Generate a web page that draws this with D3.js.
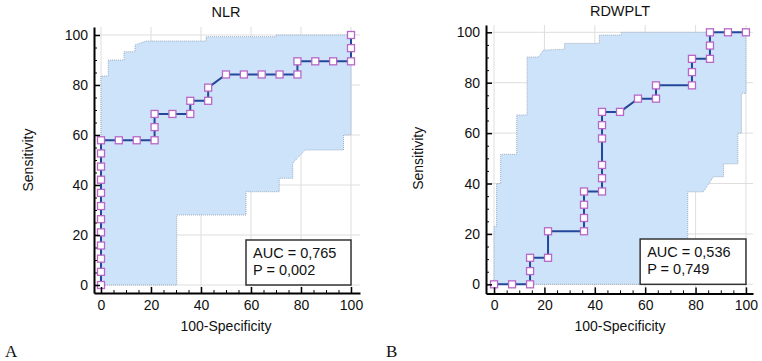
<!DOCTYPE html>
<html>
<head>
<meta charset="utf-8">
<script src="https://cdn.jsdelivr.net/npm/d3@7"></script>
<style>
  body { margin: 0; background: #fff; }
  svg { font-family: Arial, 'Liberation Sans', sans-serif; }
</style>
</head>
<body>
<svg id="chart" width="762" height="361"></svg>
<script>
// tick labels
const xTicks = [0, 20, 40, 60, 80, 100];
const yTicks = [0, 20, 40, 60, 80, 100];

// NLR roc curve (100-specificity, sensitivity)
const nlrFpr = [0, 0, 0, 0, 0, 0, 0, 0, 0, 0, 0, 0, 7.14, 14.29, 21.43, 21.43, 21.43, 28.57, 35.71, 35.71, 42.86, 42.86, 50, 57.14, 64.29, 71.43, 78.57, 78.57, 85.71, 92.86, 100, 100, 100];
const nlrTpr = [0, 5.26, 10.53, 15.79, 21.05, 26.32, 31.58, 36.84, 42.11, 47.37, 52.63, 57.89, 57.89, 57.89, 57.89, 63.16, 68.42, 68.42, 68.42, 73.68, 73.68, 78.95, 84.21, 84.21, 84.21, 84.21, 84.21, 89.47, 89.47, 89.47, 89.47, 94.74, 100];
// NLR confidence band
const nlrUpperX = [0, 0, 2.9, 2.9, 9.2, 9.2, 13.6, 13.6, 18, 42, 42, 70, 70, 100];
const nlrUpperY = [0, 83.6, 83.6, 90, 90, 93.3, 93.3, 96, 97.6, 97.6, 99.3, 99.3, 100, 100];
const nlrLowerX = [0, 30.3, 30.3, 58, 58, 71.3, 71.3, 76.7, 76.7, 81.6, 97, 97, 100, 100];
const nlrLowerY = [0, 0, 28, 28, 37.3, 37.3, 42.7, 42.7, 48.7, 54, 54, 60, 60, 100];

// RDWPLT roc curve
const rdwFpr = [0, 7.14, 14.29, 14.29, 14.29, 21.43, 21.43, 35.71, 35.71, 35.71, 35.71, 42.86, 42.86, 42.86, 42.86, 42.86, 42.86, 50, 57.14, 64.29, 64.29, 78.57, 78.57, 78.57, 85.71, 85.71, 85.71, 92.86, 100];
const rdwTpr = [0, 0, 0, 5.26, 10.53, 10.53, 21.05, 21.05, 26.32, 31.58, 36.84, 36.84, 42.11, 47.37, 57.89, 63.16, 68.42, 68.42, 73.68, 73.68, 78.95, 78.95, 84.21, 89.47, 89.47, 94.74, 100, 100, 100];
// RDWPLT confidence band
const rdwUpperX = [0, 0, 1, 1, 2.6, 2.6, 9, 9, 13.1, 13.1, 17.6, 19.6, 28, 28, 41.8, 41.8, 50.5, 50.5, 100];
const rdwUpperY = [0, 23, 23, 40, 40, 51.6, 51.6, 67.2, 67.2, 90.2, 90.2, 92.9, 93.3, 95.6, 95.6, 98.9, 98.9, 100, 100];
const rdwLowerX = [0, 76.9, 76.9, 83.1, 87.1, 91.1, 91.1, 96.8, 96.8, 98.2, 98.2, 100, 100];
const rdwLowerY = [0, 0, 36.7, 36.7, 42.7, 42.7, 47.8, 47.8, 60, 60, 75.8, 75.8, 100];

const svg = d3.select('#chart');

function zip(xs, ys) {
  return xs.map((v, i) => [v, ys[i]]);
}

function drawPanel(p) {
  const x = d3.scaleLinear().domain(p.xDomain).range(p.xRange);
  const y = d3.scaleLinear().domain(p.yDomain).range(p.yRange);
  const g = svg.append('g');
  const left = p.xRange[0], right = p.xRange[1];
  const bottom = p.yRange[0], top = p.yRange[1];

  // grid
  g.append('g').selectAll('line.v')
    .data(xTicks).join('line')
    .attr('x1', d => x(d)).attr('x2', d => x(d))
    .attr('y1', bottom).attr('y2', top)
    .attr('stroke', '#dedede').attr('stroke-width', 1);
  g.append('g').selectAll('line.h')
    .data(yTicks).join('line')
    .attr('y1', d => y(d)).attr('y2', d => y(d))
    .attr('x1', left).attr('x2', right)
    .attr('stroke', '#dedede').attr('stroke-width', 1);

  // confidence band
  const upper = zip(p.upX, p.upY);
  const lower = zip(p.loX, p.loY);
  const band = upper.concat(lower.slice().reverse());
  const line = d3.line().x(d => x(d[0])).y(d => y(d[1]));
  g.append('path')
    .attr('d', line(band) + 'Z')
    .attr('fill', '#cde3fa');
  g.append('path').attr('d', line(upper))
    .attr('fill', 'none').attr('stroke', '#8d9db3').attr('stroke-width', 0.8)
    .attr('stroke-dasharray', '1,1');
  g.append('path').attr('d', line(lower))
    .attr('fill', 'none').attr('stroke', '#8d9db3').attr('stroke-width', 0.8)
    .attr('stroke-dasharray', '1,1');

  // roc curve
  const roc = zip(p.fpr, p.tpr);
  g.append('path').datum(roc)
    .attr('d', line)
    .attr('fill', 'none')
    .attr('stroke', '#24479a')
    .attr('stroke-width', 2);
  g.append('g').selectAll('rect')
    .data(roc).join('rect')
    .attr('x', d => x(d[0]) - 3.5)
    .attr('y', d => y(d[1]) - 3.5)
    .attr('width', 7).attr('height', 7)
    .attr('fill', '#fff')
    .attr('stroke', '#b867c6')
    .attr('stroke-width', 1.3);

  // axes
  const minor = d3.range(0, 101, 5).filter(v => v % 20 !== 0);
  const yAxis = g.append('g').attr('transform', `translate(${left},0)`)
    .call(d3.axisLeft(y).tickValues(yTicks).tickSizeInner(-6).tickSizeOuter(0).tickPadding(6));
  yAxis.select('.domain').attr('stroke-width', 2);
  yAxis.selectAll('.tick line').attr('stroke-width', 1.5);
  yAxis.selectAll('text').style('font-size', '14px').attr('fill', '#111');
  g.append('g').attr('transform', `translate(${left},0)`)
    .call(d3.axisLeft(y).tickValues(minor).tickSize(-3).tickFormat(''))
    .call(a => a.select('.domain').remove());

  const xAxis = g.append('g').attr('transform', `translate(0,${bottom})`)
    .call(d3.axisBottom(x).tickValues(xTicks).tickSizeInner(-6).tickSizeOuter(0).tickPadding(7));
  xAxis.select('.domain').attr('stroke-width', 2);
  xAxis.selectAll('.tick line').attr('stroke-width', 1.5);
  xAxis.selectAll('text').style('font-size', '14px').attr('fill', '#111');
  g.append('g').attr('transform', `translate(0,${bottom})`)
    .call(d3.axisBottom(x).tickValues(minor).tickSize(-3).tickFormat(''))
    .call(a => a.select('.domain').remove());

  // labels
  g.append('text')
    .attr('x', (x(0) + x(100)) / 2).attr('y', p.titleY)
    .attr('text-anchor', 'middle')
    .style('font-size', '14.5px').attr('fill', '#111')
    .text(p.title);
  g.append('text')
    .attr('x', (x(0) + x(100)) / 2).attr('y', 331)
    .attr('text-anchor', 'middle')
    .style('font-size', '14px').attr('fill', '#111')
    .text('100-Specificity');
  g.append('text')
    .attr('transform', `translate(${p.yLabelX},${(y(0) + y(100)) / 2}) rotate(-90)`)
    .attr('text-anchor', 'middle')
    .style('font-size', '14px').attr('fill', '#111')
    .text('Sensitivity');

  // AUC box
  const bx = x(58), bw = x(100) - x(58);
  const by = p.boxTop, bh = y(0) - p.boxTop;
  g.append('rect')
    .attr('x', bx).attr('y', by).attr('width', bw).attr('height', bh)
    .attr('fill', '#fff').attr('stroke', '#333').attr('stroke-width', 1.5);
  g.append('text')
    .attr('x', bx + 7).attr('y', by + 17.5)
    .style('font-size', '14.5px').attr('fill', '#111')
    .text(p.auc);
  g.append('text')
    .attr('x', bx + 7).attr('y', by + 34.5)
    .style('font-size', '14.5px').attr('fill', '#111')
    .text(p.pval);

  // panel letter
  svg.append('text')
    .attr('x', p.letterX).attr('y', 357)
    .style('font-family', "'Liberation Serif', 'Times New Roman', serif")
    .style('font-size', '17px').attr('fill', '#111')
    .text(p.letter);
}

drawPanel({
  title: 'NLR', titleY: 17, letter: 'A', letterX: 5, yLabelX: 33,
  xDomain: [-2.8, 103.6], xRange: [94, 360],
  yDomain: [-3.2, 103.2], yRange: [293, 27],
  fpr: nlrFpr, tpr: nlrTpr,
  upX: nlrUpperX, upY: nlrUpperY, loX: nlrLowerX, loY: nlrLowerY,
  boxTop: 240, auc: 'AUC = 0,765', pval: 'P = 0,002'
});

drawPanel({
  title: 'RDWPLT', titleY: 16, letter: 'B', letterX: 386, yLabelX: 423,
  xDomain: [-3.2, 102.8], xRange: [486, 753],
  yDomain: [-3.6, 102.9], yRange: [293.4, 25],
  fpr: rdwFpr, tpr: rdwTpr,
  upX: rdwUpperX, upY: rdwUpperY, loX: rdwLowerX, loY: rdwLowerY,
  boxTop: 239, auc: 'AUC = 0,536', pval: 'P = 0,749'
});
</script>
</body>
</html>
